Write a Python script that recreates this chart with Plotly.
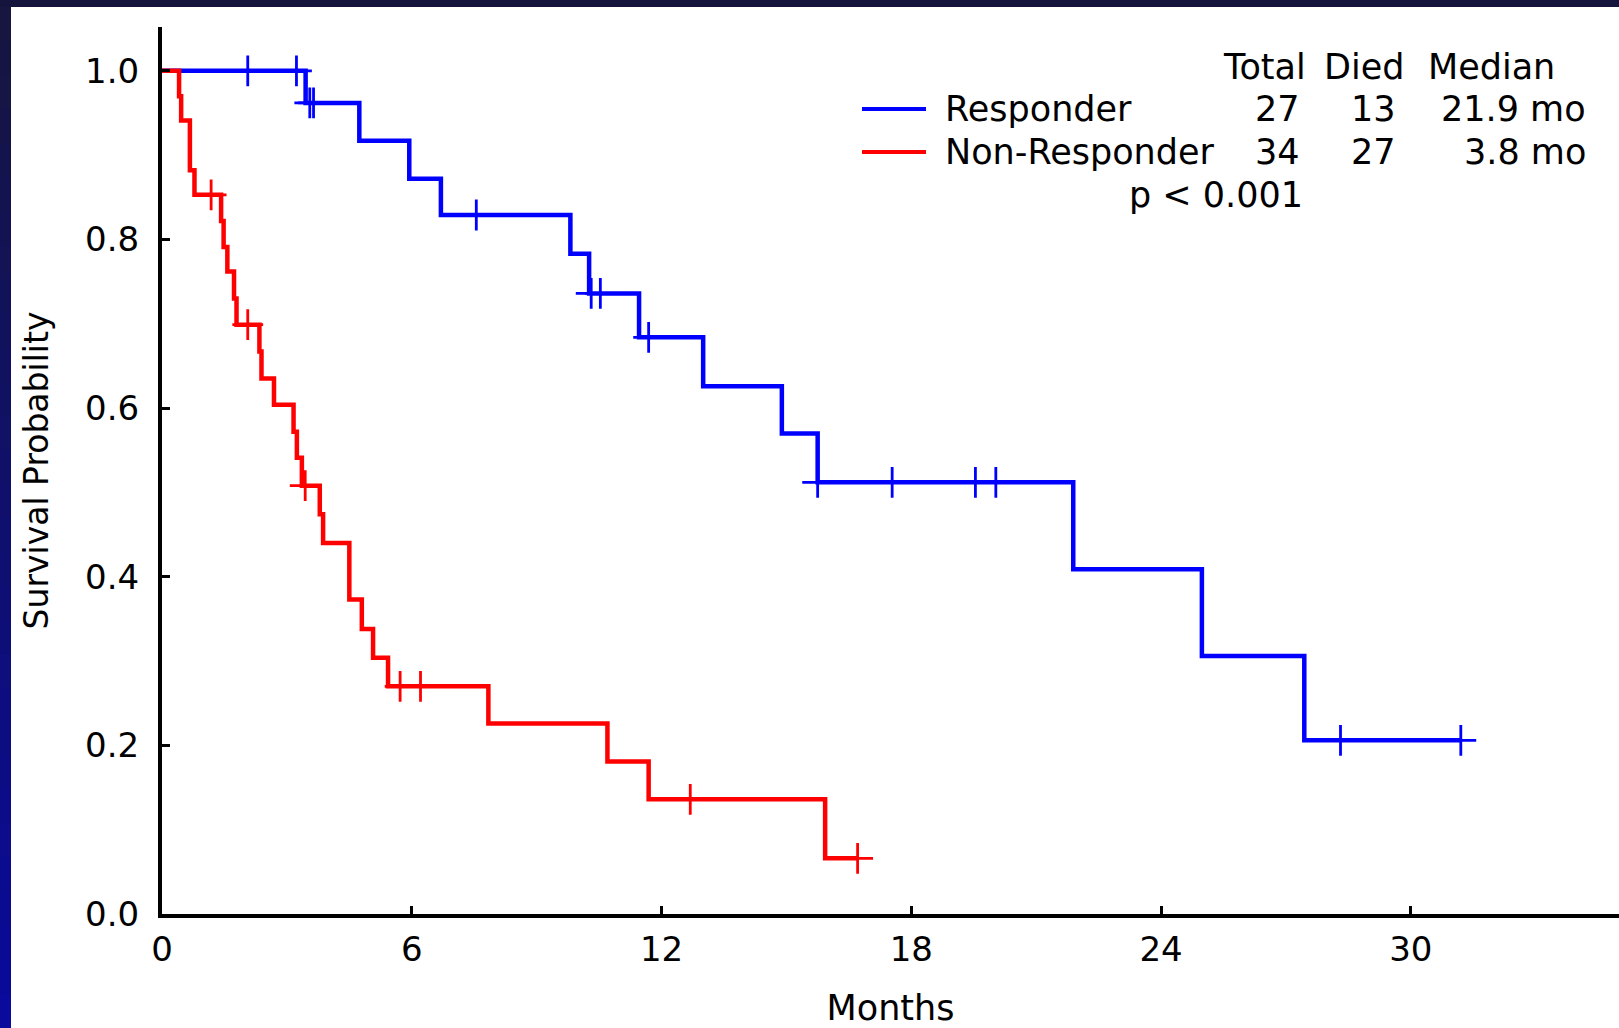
import plotly.graph_objects as go

# ---------------- data ----------------
resp_event_t = [3.45, 4.74, 5.94, 6.70, 9.81, 10.26, 11.46, 13.00, 14.89, 15.75, 21.89, 24.98, 27.44]
resp_event_s = [0.962, 0.917, 0.872, 0.829, 0.783, 0.736, 0.684, 0.626, 0.570, 0.512, 0.409, 0.306, 0.206]
resp_censor_t = [2.06, 3.23, 3.55, 3.64, 7.55, 10.31, 10.53, 11.69, 15.75, 17.54, 19.54, 20.03, 28.31, 31.20]

nonr_event_t = [0.41, 0.46, 0.67, 0.78, 1.42, 1.48, 1.57, 1.73, 1.79, 2.34, 2.39, 2.69, 3.16, 3.24,
                3.36, 3.79, 3.87, 4.50, 4.80, 5.07, 5.43, 7.84, 10.70, 11.69, 15.93]
nonr_event_s = [0.970, 0.941, 0.882, 0.853, 0.822, 0.791, 0.762, 0.730, 0.699, 0.667, 0.635, 0.604, 0.572, 0.541,
                0.508, 0.474, 0.440, 0.373, 0.338, 0.304, 0.270, 0.226, 0.181, 0.136, 0.066]
nonr_censor_t = [1.18, 2.06, 3.44, 5.72, 6.21, 12.69, 16.71]

x_ticks = [0, 6, 12, 18, 24, 30]
y_ticks = [0.0, 0.2, 0.4, 0.6, 0.8, 1.0]

groups = ["Responder", "Non-Responder"]
totals = ["27", "34"]
died = ["13", "27"]
medians = ["21.9 mo", "3.8 mo"]
p_text = "p < 0.001"

BLUE = "#0000ff"
RED = "#ff0000"
FONT = "DejaVu Sans"

W, H = 1619, 1028
ML, MR, MT, MB = 162, 0, 27, 114
PW, PH = W - ML - MR, H - MT - MB


def xp(px):
    return (px - ML) / PW


def yp(py):
    return (H - MB - py) / PH


def km_line(ev_t, ev_s, end_t):
    xs = [0.0] + list(ev_t) + [end_t]
    ys = [1.0] + list(ev_s) + [ev_s[-1]]
    return xs, ys


def surv_at(t, ev_t, ev_s):
    s = 1.0
    for et, es in zip(ev_t, ev_s):
        if et <= t + 1e-9:
            s = es
    return s


fig = go.Figure()

for name, ev_t, ev_s, cen_t, col in [
    (groups[0], resp_event_t, resp_event_s, resp_censor_t, BLUE),
    (groups[1], nonr_event_t, nonr_event_s, nonr_censor_t, RED),
]:
    lx, ly = km_line(ev_t, ev_s, max(cen_t))
    fig.add_trace(go.Scatter(x=lx, y=ly, mode="lines", line=dict(color=col, width=4.5, shape="hv"),
                             name=name, showlegend=False, hoverinfo="skip"))
    fig.add_trace(go.Scatter(x=cen_t, y=[surv_at(t, ev_t, ev_s) for t in cen_t], mode="markers",
                             marker=dict(symbol="cross-thin", size=22, line=dict(color=col, width=2.8)),
                             name=name + " censored", showlegend=False, hoverinfo="skip"))

shapes = []
# white panel
shapes.append(dict(type="rect", xref="paper", yref="paper", x0=xp(11), x1=xp(W + 5), y0=yp(7), y1=yp(H + 5),
                   fillcolor="white", line=dict(width=0), layer="below"))
# left navy gradient strip
nb = 30
for i in range(nb):
    f = i / (nb - 1)
    r = int(0x16 + (0x0a - 0x16) * f)
    g = int(0x16 + (0x0a - 0x16) * f)
    b = int(0x40 + (0x9c - 0x40) * f)
    y0 = 7 + (H - 7) * i / nb
    y1 = 7 + (H - 7) * (i + 1) / nb + 1
    shapes.append(dict(type="rect", xref="paper", yref="paper", x0=xp(-2), x1=xp(11), y0=yp(y0), y1=yp(y1),
                       fillcolor=f"rgb({r},{g},{b})", line=dict(width=0), layer="below"))

# legend lines
for py, col in [(109, BLUE), (152, RED)]:
    shapes.append(dict(type="line", xref="paper", yref="paper", x0=xp(862), x1=xp(926), y0=yp(py), y1=yp(py),
                       line=dict(color=col, width=4)))

ann = []
fs = 35


def txt(text, px, py, anchor):
    ann.append(dict(text=text, xref="paper", yref="paper", x=xp(px), y=yp(py), xanchor=anchor, yanchor="middle",
                    showarrow=False, font=dict(family=FONT, size=fs, color="black")))


txt("Total", 1264, 67, "center")
txt("Died", 1364, 67, "center")
txt("Median", 1491, 67, "center")
rows_y = [109, 152]
for i in range(2):
    txt(groups[i], 943, rows_y[i], "left")
    txt(totals[i], 1302, rows_y[i], "right")
    txt(died[i], 1398, rows_y[i], "right")
    txt(medians[i], 1588, rows_y[i], "right")
txt(p_text, 1305, 195, "right")

fig.update_layout(
    width=W, height=H, autosize=False,
    margin=dict(l=ML, r=MR, t=MT, b=MB, pad=0),
    paper_bgcolor="#14143c", plot_bgcolor="white",
    shapes=shapes, annotations=ann,
    font=dict(family=FONT, color="black"),
    xaxis=dict(range=[0, 35], tickvals=x_ticks, ticktext=[str(v) for v in x_ticks],
               showgrid=False, zeroline=False, showline=True, linecolor="black", linewidth=4,
               ticks="inside", ticklen=8, tickwidth=3, tickcolor="black",
               tickfont=dict(family=FONT, size=34, color="black"), ticklabelstandoff=2,
               title=dict(text="Months", font=dict(family=FONT, size=35, color="black"), standoff=31)),
    yaxis=dict(range=[0, 1.052], tickvals=y_ticks, tickformat=".1f",
               showgrid=False, zeroline=False, showline=True, linecolor="black", linewidth=4,
               ticks="inside", ticklen=8, tickwidth=3, tickcolor="black",
               tickfont=dict(family=FONT, size=34, color="black"), ticklabelstandoff=12,
               title=dict(text="Survival Probability", font=dict(family=FONT, size=33, color="black"), standoff=28)),
)

fig.write_html("out.html", config={"displayModeBar": False},
               post_script="document.body.style.margin='0';document.body.style.overflow='hidden';")
